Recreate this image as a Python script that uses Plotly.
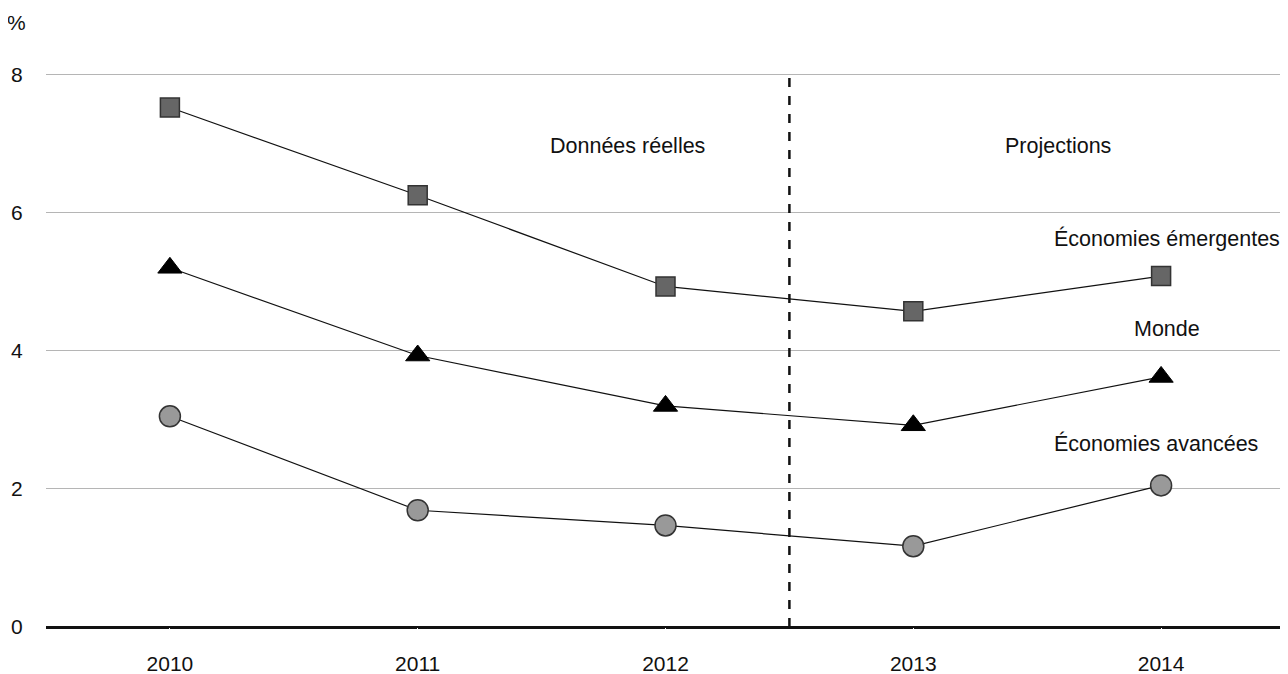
import plotly.graph_objects as go

years = ["2010", "2011", "2012", "2013", "2014"]
emergentes = [7.52, 6.25, 4.93, 4.57, 5.08]
monde = [5.2, 3.93, 3.2, 2.92, 3.62]
avancees = [3.05, 1.69, 1.47, 1.17, 2.05]
y_ticks = [0, 2, 4, 6, 8]

FONT = "Liberation Sans, Arial, sans-serif"
xs = list(range(len(years)))

fig = go.Figure()
fig.add_trace(go.Scatter(x=xs, y=emergentes, mode="lines+markers", name="Économies émergentes",
                         line=dict(color="#111", width=1.2),
                         marker=dict(symbol="square", size=19, color="#666666",
                                     line=dict(color="#333", width=1.5))))
fig.add_trace(go.Scatter(x=xs, y=monde, mode="lines+markers", name="Monde",
                         line=dict(color="#111", width=1.2),
                         marker=dict(symbol="triangle-up", size=21, color="#000000",
                                     line=dict(color="#000", width=1))))
fig.add_trace(go.Scatter(x=xs, y=avancees, mode="lines+markers", name="Économies avancées",
                         line=dict(color="#111", width=1.2),
                         marker=dict(symbol="circle", size=21, color="#999999",
                                     line=dict(color="#333", width=1.5))))

fig.add_shape(type="line", x0=2.5, x1=2.5, y0=0, y1=8, xref="x", yref="y",
              line=dict(color="#111", width=2.5, dash="dash"), layer="above")

ann = [
    ("Données réelles", 1.846, 6.96),
    ("Projections", 3.584, 6.96),
    ("Économies émergentes", 4.024, 5.63),
    ("Monde", 4.024, 4.32),
    ("Économies avancées", 3.98, 2.66),
]
for t, x, y in ann:
    fig.add_annotation(x=x, y=y, text=t, showarrow=False, xref="x", yref="y",
                       font=dict(family=FONT, size=21.5, color="#111"))
fig.add_annotation(x=-0.033, y=1.092, xref="paper", yref="paper", text="%", showarrow=False,
                   xanchor="left", yanchor="middle", font=dict(family=FONT, size=21, color="#111"))

fig.update_layout(
    width=1280, height=666,
    margin=dict(l=38, r=3, t=65, b=47),
    paper_bgcolor="white", plot_bgcolor="white",
    showlegend=False,
    font=dict(family=FONT, size=21, color="#111"),
    xaxis=dict(range=[-0.5, 4.5], tickvals=xs, ticktext=years, showgrid=False, automargin=False,
               zeroline=False, showline=False, ticks="outside", ticklen=18, tickcolor="white"),
    yaxis=dict(range=[0, 8.02], tickvals=y_ticks, showgrid=True, gridcolor="#b5b5b5", gridwidth=1,
               zeroline=True, zerolinecolor="#111", zerolinewidth=2.5, automargin=False,
               ticks="outside", ticklen=18, tickcolor="white", showline=False),
)
fig.write_html("out.html")
